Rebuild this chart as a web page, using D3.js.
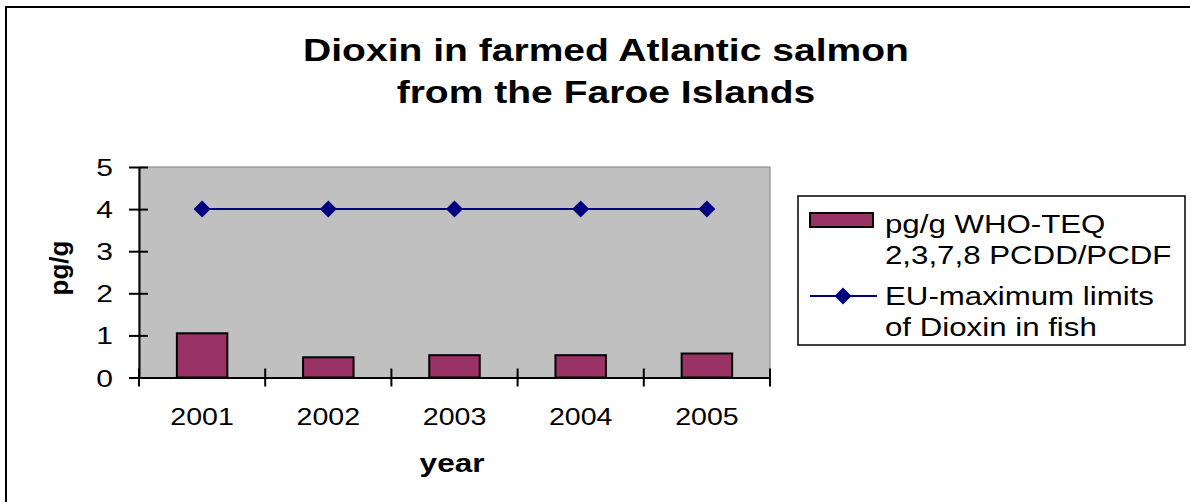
<!DOCTYPE html>
<html>
<head>
<meta charset="utf-8">
<script src="https://cdn.jsdelivr.net/npm/d3@7"></script>
<style>
  html, body { margin: 0; padding: 0; background: #fff; }
  svg { display: block; }
  text { font-family: "Liberation Sans", Arial, sans-serif; fill: #000; }
</style>
</head>
<body>
<svg id="chart" width="1190" height="502"></svg>
<script>
const years = ["2001", "2002", "2003", "2004", "2005"];
const dioxinValues = [1.05, 0.48, 0.53, 0.53, 0.57];
const euLimitValues = [4, 4, 4, 4, 4];
const yTickValues = [0, 1, 2, 3, 4, 5];
const titleLines = ["Dioxin in farmed Atlantic salmon", "from the Faroe Islands"];
const legendBarLines = ["pg/g WHO-TEQ", "2,3,7,8 PCDD/PCDF"];
const legendLineLines = ["EU-maximum limits", "of Dioxin in fish"];

const svg = d3.select("#chart");
const plot = { left: 139, right: 770, top: 167, bottom: 377.5 };

// outer frame (cut at right/bottom like the reference)
svg.append("rect").attr("x", 6).attr("y", 7).attr("width", 1200).attr("height", 520)
  .attr("fill", "#fff").attr("stroke", "#000").attr("stroke-width", 2);

const x = d3.scaleBand().domain(years).range([plot.left, plot.right]).paddingInner(0).paddingOuter(0);
const y = d3.scaleLinear().domain([0, 5]).range([plot.bottom, plot.top]);

// plot area
svg.append("rect").attr("x", plot.left).attr("y", plot.top)
  .attr("width", plot.right - plot.left).attr("height", plot.bottom - plot.top)
  .attr("fill", "#C0C0C0").attr("stroke", "#808080").attr("stroke-width", 1);

function stretchedText(sel, px, py, str, opts) {
  return sel.append("text")
    .attr("transform", `translate(${px},${py}) scale(${opts.sx},1)`)
    .attr("font-size", opts.size)
    .attr("font-weight", opts.weight || "normal")
    .attr("text-anchor", opts.anchor || "start")
    .text(str);
}

// title
titleLines.forEach((line, i) => {
  stretchedText(svg, 606, 61 + i * 42, line, { sx: 1.22, size: 32, weight: "bold", anchor: "middle" });
});

// bars
const bw = x.bandwidth() * 0.4;
svg.append("g").selectAll("rect").data(years).join("rect")
  .attr("x", d => x(d) + (x.bandwidth() - bw) / 2)
  .attr("y", (d, i) => y(dioxinValues[i]))
  .attr("width", bw)
  .attr("height", (d, i) => y(0) - y(dioxinValues[i]))
  .attr("fill", "#993366").attr("stroke", "#000").attr("stroke-width", 2);

// y axis
const yAxis = d3.axisLeft(y).tickValues(yTickValues).tickSize(0).tickFormat("");
const yg = svg.append("g").attr("transform", `translate(${plot.left},0)`).call(yAxis);
yg.select(".domain").attr("stroke", "#000").attr("stroke-width", 2);
yg.selectAll(".tick").append("line").attr("x1", -10).attr("x2", 9).attr("stroke", "#000").attr("stroke-width", 2);
yTickValues.forEach(v => {
  stretchedText(svg, 113, y(v) + 9, String(v), { sx: 1.25, size: 24, anchor: "end" });
});

// x axis
const xAxis = d3.axisBottom(x).tickSize(0).tickFormat("");
const xg = svg.append("g").attr("transform", `translate(0,${plot.bottom})`).call(xAxis);
xg.select(".domain").attr("stroke", "#000").attr("stroke-width", 2);
const boundaries = years.map(d => x(d)).concat([x(years[years.length - 1]) + x.bandwidth()]);
xg.selectAll("line.bound").data(boundaries).join("line").attr("class", "bound")
  .attr("x1", d => d).attr("x2", d => d).attr("y1", -9).attr("y2", 9)
  .attr("stroke", "#000").attr("stroke-width", 2);
years.forEach(d => {
  stretchedText(svg, x(d) + x.bandwidth() / 2, 425, d, { sx: 1.19, size: 24, anchor: "middle" });
});

// line series
const cx = d => x(d) + x.bandwidth() / 2;
const line = d3.line().x((d, i) => cx(years[i])).y(d => y(d));
svg.append("path").datum(euLimitValues).attr("d", line)
  .attr("fill", "none").attr("stroke", "#000080").attr("stroke-width", 2);
const diamond = (px, py, r) => `M${px},${py - r}L${px + r},${py}L${px},${py + r}L${px - r},${py}Z`;
svg.append("g").selectAll("path").data(euLimitValues).join("path")
  .attr("d", (d, i) => diamond(cx(years[i]), y(d), 8.5))
  .attr("fill", "#000080");

// axis titles
svg.append("text").attr("transform", "translate(68,268) rotate(-90)")
  .attr("text-anchor", "middle").attr("font-size", 26).attr("font-weight", "bold").text("pg/g");
stretchedText(svg, 452, 472, "year", { sx: 1.26, size: 25, weight: "bold", anchor: "middle" });

// legend
const lg = svg.append("g");
lg.append("rect").attr("x", 798).attr("y", 196).attr("width", 387).attr("height", 149)
  .attr("fill", "#fff").attr("stroke", "#000").attr("stroke-width", 1.5);
lg.append("rect").attr("x", 810).attr("y", 213).attr("width", 63).attr("height", 14)
  .attr("fill", "#993366").attr("stroke", "#000").attr("stroke-width", 2);
lg.append("line").attr("x1", 810).attr("x2", 877).attr("y1", 296).attr("y2", 296)
  .attr("stroke", "#000080").attr("stroke-width", 2);
lg.append("path").attr("d", diamond(843, 296, 8.5)).attr("fill", "#000080");
legendBarLines.forEach((l, i) => stretchedText(lg, 885, 233 + i * 31, l, { sx: 1.25, size: 25 }));
legendLineLines.forEach((l, i) => stretchedText(lg, 885, 305 + i * 31, l, { sx: 1.25, size: 25 }));
</script>
</body>
</html>
